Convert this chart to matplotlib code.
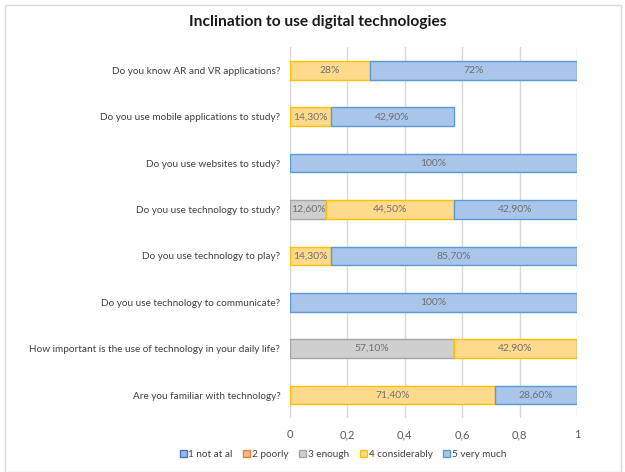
import matplotlib.pyplot as plt
from matplotlib.patches import Rectangle
import numpy as np

plt.rcParams['font.family'] = ['Lato', 'DejaVu Sans']

questions = ["Do you know AR and VR applications?",
             "Do you use mobile applications to study?",
             "Do you use websites to study?",
             "Do you use technology to study?",
             "Do you use technology to play?",
             "Do you use technology to communicate?",
             "How important is the use of technology in your daily life?",
             "Are you familiar with technology?"]

series_names = ["1 not at al", "2 poorly", "3 enough", "4 considerably", "5 very much"]

not_at_all = [0, 0, 0, 0, 0, 0, 0, 0]
poorly = [0, 0, 0, 0, 0, 0, 0, 0]
enough = [0, 0, 0, 0.126, 0, 0, 0.571, 0]
considerably = [0.28, 0.143, 0, 0.445, 0.143, 0, 0.429, 0.714]
very_much = [0.72, 0.429, 1.0, 0.429, 0.857, 1.0, 0, 0.286]

enough_lbl = ["", "", "", "12,60%", "", "", "57,10%", ""]
considerably_lbl = ["28%", "14,30%", "", "44,50%", "14,30%", "", "42,90%", "71,40%"]
very_much_lbl = ["72%", "42,90%", "100%", "42,90%", "85,70%", "100%", "", "28,60%"]

fills = ["#A3B6E0", "#F5B895", "#CFCFCF", "#FFD98C", "#A9C5E9"]
edges = ["#4472C4", "#ED7D31", "#A5A5A5", "#FFC000", "#5B9BD5"]

fig = plt.figure(figsize=(6.25, 4.72), dpi=100)
ax = fig.add_axes([0.464, 0.114, 0.459, 0.786])

y = np.arange(len(questions))
data = [not_at_all, poorly, enough, considerably, very_much]
labels = [None, None, enough_lbl, considerably_lbl, very_much_lbl]
left = np.zeros(len(questions))
for i, vals in enumerate(data):
    vals = np.array(vals)
    bars = ax.barh(y, vals, left=left, height=0.4, color=fills[i],
                   edgecolor=edges[i], linewidth=1.0, label=series_names[i], zorder=3)
    if labels[i] is not None:
        for b, v, t in zip(bars, vals, labels[i]):
            if v > 0:
                ax.text(b.get_x() + b.get_width() / 2, b.get_y() + b.get_height() / 2, t,
                        ha='center', va='center', fontsize=7.5, color='#707070', zorder=4)
    left = left + vals

ax.set_ylim(len(questions) - 0.5, -0.5)
ax.set_xlim(0, 1)
ax.set_xticks([0, 0.2, 0.4, 0.6, 0.8, 1])
ax.set_xticklabels(["0", "0,2", "0,4", "0,6", "0,8", "1"])
ax.set_yticks(y)
ax.set_yticklabels(questions)
ax.tick_params(axis='both', length=0, colors='#404040')
ax.tick_params(axis='y', pad=7, labelsize=7.2)
ax.tick_params(axis='x', pad=8, labelsize=8, colors='#595959')
ax.grid(axis='x', color='#D9D9D9', linewidth=1, zorder=0)
for s in ax.spines.values():
    s.set_visible(False)

fig.text(0.509, 0.953, "Inclination to use digital technologies", fontsize=11.2,
         fontweight='bold', color='#1a1a1a', ha='center', va='center')

handles, lbls = ax.get_legend_handles_labels()
fig.legend(handles, lbls, loc='center', bbox_to_anchor=(0.549, 0.037), ncol=5, frameon=False,
           fontsize=7.2, handlelength=0.7, handleheight=0.7, handletextpad=0.2,
           columnspacing=1.05, labelcolor='#404040')

fig.patches.append(Rectangle((0.008, 0.0), 0.985, 0.99, transform=fig.transFigure,
                             fill=False, edgecolor='#D9D9D9', linewidth=1))

fig.savefig("out.png", dpi=100)
